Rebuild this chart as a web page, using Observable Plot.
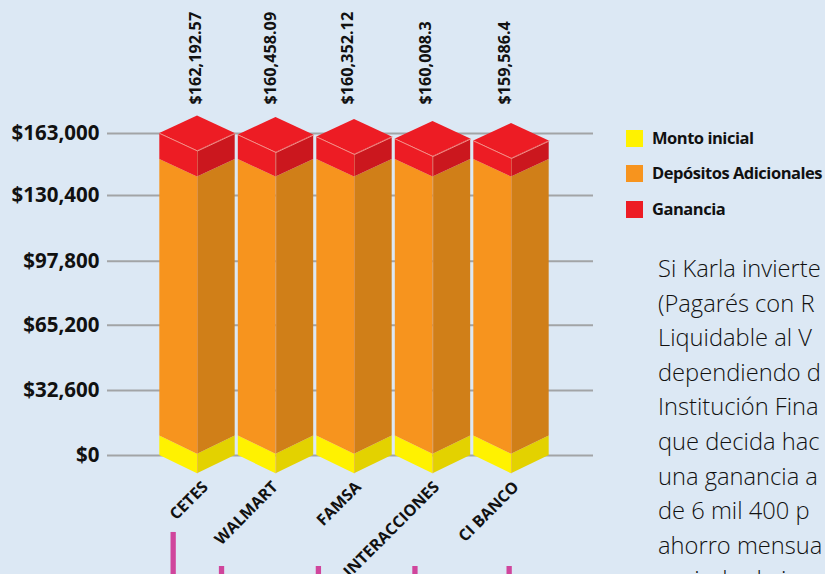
<!DOCTYPE html>
<html lang="es">
<head>
<meta charset="utf-8">
<script src="https://cdn.jsdelivr.net/npm/d3@7"></script>
<script src="https://cdn.jsdelivr.net/npm/@observablehq/plot@0.6"></script>
<style>
  html,body{margin:0;padding:0;width:825px;height:574px;overflow:hidden;background:#dce8f4;}
  #wrap{position:relative;width:825px;height:574px;overflow:hidden;background:#dce8f4;}
  #wrap svg{position:absolute;left:0;top:0;background:transparent;}
  .lg{position:absolute;left:626px;width:17.4px;height:17.4px;}
  .lt{position:absolute;left:652px;font:700 16.5px/18px "Open Sans",sans-serif;color:#111;white-space:nowrap;letter-spacing:-0.48px;}
  #para{position:absolute;left:658px;top:251px;font:300 23.7px/34.6px "Open Sans",sans-serif;color:#111;white-space:nowrap;}
</style>
</head>
<body>
<div id="wrap"></div>
<script>
// Data
const categories = ["CETES","WALMART","FAMSA","INTERACCIONES","CI BANCO"];
const valueLabels = ["$162,192.57","$160,458.09","$160,352.12","$160,008.3","$159,586.4"];
const montoInicial = [9800,9800,9800,9800,9800];
const depositos = [139500,139500,139500,139500,139500];
const ganancia = [13700,12900,11850,10800,9750];
const tickValues = [0,32600,65200,97800,130400,163000];
const legendItems = ["Monto inicial","Depósitos Adicionales","Ganancia"];
const legendColors = ["#fff200","#f7941e","#ed1c24"];
const sideColors = ["#e3d200","#d07f18","#cb171e"];
const paragraph = ["Si Karla invierte","(Pagarés con R","Liquidable al V","dependiendo d","Institución Fina","que decida hac","una ganancia a","de 6 mil 400 p","ahorro mensua","periodo de in"];
const pinkX = [-0.31,0.306,1.54,2.77,3.97];
const pinkTop = [-38600,-55670,-55670,-55670,-55670];

// Scale-unit layout constants
const half = 0.48, depth = 9200;
const labelShift = [-0.025,-0.07,-0.08,-0.095,-0.09];
const catShift = [0.10,-0.01,0.05,0.045,0.06];

const lefts=[], rights=[], tops=[], edges=[], verts=[];
categories.forEach((c,i)=>{
  let base=0;
  [montoInicial[i],depositos[i],ganancia[i]].forEach((v,s)=>{
    const b=base, t=base+v; base=t;
    const id=c+s;
    lefts.push({id,s,x:i-half,y1:b,y2:t},{id,s,x:i,y1:b-depth,y2:t-depth});
    rights.push({id,s,x:i,y1:b-depth,y2:t-depth},{id,s,x:i+half,y1:b,y2:t});
  });
  const T=base;
  tops.push({id:c,x:i-half,y1:T,y2:T},{id:c,x:i,y1:T-depth,y2:T+depth},{id:c,x:i+half,y1:T,y2:T});
  edges.push({id:c,x:i-half,y:T},{id:c,x:i,y:T-depth},{id:c,x:i+half,y:T});
  verts.push({x:i,y1:-depth,y2:T-depth});
});
const leftsBy=s=>lefts.filter(d=>d.s===s), rightsBy=s=>rights.filter(d=>d.s===s);
const idx=categories.map((_,i)=>i);

const chart=Plot.plot({
  width:825,height:574,marginLeft:107,marginRight:232,marginTop:0,marginBottom:0,
  style:{background:"transparent",overflow:"hidden"},
  x:{type:"linear",domain:[-90/78.5,396/78.5],axis:null},
  y:{type:"linear",domain:tickValues,range:[455,390,324.7,260.7,195,133],axis:null},
  marks:[
    Plot.ruleY(tickValues,{stroke:"#a2a4a6",strokeWidth:2}),
    ...[0,1,2].flatMap(s=>[
      Plot.areaY(leftsBy(s),{x:"x",y1:"y1",y2:"y2",z:"id",fill:legendColors[s]}),
      Plot.areaY(rightsBy(s),{x:"x",y1:"y1",y2:"y2",z:"id",fill:sideColors[s]})
    ]),
    Plot.areaY(tops,{x:"x",y1:"y1",y2:"y2",z:"id",fill:legendColors[2]}),
    Plot.ruleX(verts,{x:"x",y1:"y1",y2:"y2",stroke:"#f4b08a",strokeWidth:0.6,strokeOpacity:0.7}),
    Plot.line(edges,{x:"x",y:"y",z:"id",stroke:"#f58f86",strokeWidth:1}),
    Plot.ruleX(pinkX,{y1:pinkTop,y2:()=>-60000,stroke:"#d0459c",strokeWidth:5.3}),
    Plot.axisY(tickValues,{anchor:"left",tickSize:0,tickPadding:8,label:null,fontSize:20.5,fontWeight:700,fontFamily:"Open Sans",fill:"#111",tickFormat:d=>"$"+d3.format(",")(d)}),
    Plot.text(idx,{x:i=>i+labelShift[i],y:()=>178300,text:i=>valueLabels[i],rotate:-90,textAnchor:"start",fontSize:16.2,fontWeight:700,fontFamily:"Open Sans",fill:"#111"}),
    Plot.text(idx,{x:i=>i+catShift[i],y:()=>-14500,text:i=>categories[i],rotate:-45,textAnchor:"end",fontSize:16,fontWeight:700,fontFamily:"Open Sans",fill:"#111"})
  ]
});
const wrap=document.getElementById("wrap");
wrap.appendChild(chart);
const legendTop=[130,165,200.7];
legendItems.forEach((t,i)=>{
  const s=document.createElement("div");s.className="lg";s.style.top=legendTop[i]+"px";s.style.background=legendColors[i];wrap.appendChild(s);
  const l=document.createElement("div");l.className="lt";l.style.top=(legendTop[i]-1)+"px";l.textContent=t;wrap.appendChild(l);
});
const p=document.createElement("div");p.id="para";p.innerHTML=paragraph.join("<br>");wrap.appendChild(p);
</script>
</body>
</html>
